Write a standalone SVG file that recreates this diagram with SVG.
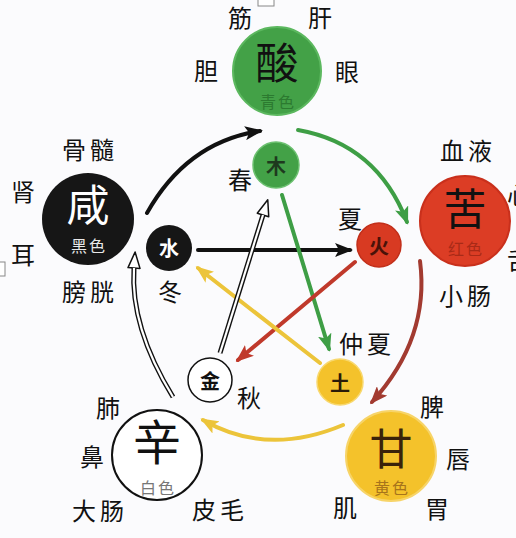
<svg xmlns="http://www.w3.org/2000/svg" width="516" height="538" viewBox="0 0 516 538">
<style>
text{font-family:"Noto Sans CJK SC","Noto Sans CJK TC",sans-serif;text-anchor:middle;dominant-baseline:central}
.lbl{font-size:24px;fill:#111;letter-spacing:4px}
.big{font-size:43px}
.sub{font-size:16px;letter-spacing:2px}
.sm{font-size:20px;font-weight:700}
.arr{fill:none;stroke-width:4;stroke-linecap:round}
</style>
<defs>
<marker id="hBlack" viewBox="0 0 18 14" refX="15" refY="7" markerWidth="18" markerHeight="14" markerUnits="userSpaceOnUse" orient="auto"><path d="M0,0 L18,7 L0,14 L4,7 z" fill="#111"/></marker>
<marker id="hGreen" viewBox="0 0 18 14" refX="15" refY="7" markerWidth="18" markerHeight="14" markerUnits="userSpaceOnUse" orient="auto"><path d="M0,0 L18,7 L0,14 L4,7 z" fill="#3e9e45"/></marker>
<marker id="hRed" viewBox="0 0 18 14" refX="15" refY="7" markerWidth="18" markerHeight="14" markerUnits="userSpaceOnUse" orient="auto"><path d="M0,0 L18,7 L0,14 L4,7 z" fill="#c0392b"/></marker>
<marker id="hBrown" viewBox="0 0 18 14" refX="15" refY="7" markerWidth="18" markerHeight="14" markerUnits="userSpaceOnUse" orient="auto"><path d="M0,0 L18,7 L0,14 L4,7 z" fill="#a23a30"/></marker>
<marker id="hYellow" viewBox="0 0 18 14" refX="15" refY="7" markerWidth="18" markerHeight="14" markerUnits="userSpaceOnUse" orient="auto"><path d="M0,0 L18,7 L0,14 L4,7 z" fill="#ecc43a"/></marker>
<marker id="hHollow" viewBox="-2 -2 20 16" refX="0" refY="6" markerWidth="20" markerHeight="16" markerUnits="userSpaceOnUse" orient="auto"><path d="M0,0 L16,6 L0,12 z" fill="#fff" stroke="#111" stroke-width="1.5" stroke-linejoin="round"/></marker>
</defs>
<rect width="516" height="538" fill="#fbfbfd"/>
<rect x="258" y="-2" width="16" height="8" fill="#fff" stroke="#888" stroke-width="1"/>
<rect x="-2" y="262" width="7" height="14" fill="#fff" stroke="#888" stroke-width="1"/>

<g id="connectors">
  <path class="arr" d="M147,213 Q187,142 260,131" stroke="#111" marker-end="url(#hBlack)"/>
  <path class="arr" d="M298,130 Q377,144 407,222" stroke="#3e9e45" marker-end="url(#hGreen)"/>
  <path class="arr" d="M420,261 Q430,338 372,402" stroke="#a23a30" marker-end="url(#hBrown)"/>
  <path class="arr" d="M343,425 Q267,457 203,420" stroke="#ecc43a" marker-end="url(#hYellow)"/>
  <path d="M173,397 Q130,327 134,268" fill="none" stroke="#111" stroke-width="5" marker-end="url(#hHollow)"/>
  <path d="M173,397 Q130,327 134,268" fill="none" stroke="#fff" stroke-width="2.2"/>
  <path class="arr" d="M198,250 L350,250" stroke="#111" marker-end="url(#hBlack)"/>
  <path class="arr" d="M282,195 L329,349" stroke="#3e9e45" marker-end="url(#hGreen)"/>
  <path class="arr" d="M355,262 L238,360" stroke="#c0392b" marker-end="url(#hRed)"/>
  <path class="arr" d="M320,363 L198,268" stroke="#ecc43a" marker-end="url(#hYellow)"/>
  <path d="M220,353 L263,215" fill="none" stroke="#111" stroke-width="5" marker-end="url(#hHollow)"/>
  <path d="M220,353 L263,215" fill="none" stroke="#fff" stroke-width="2.2"/>
</g>

<g id="suan">
  <circle cx="277" cy="71" r="44" fill="#43a147" stroke="#5cb85f" stroke-width="2"/>
  <text class="big" x="277" y="60" fill="#111">酸</text>
  <text class="sub" x="278" y="101" fill="#2c7a30">青色</text>
  <text class="lbl" x="242" y="16">筋</text>
  <text class="lbl" x="322" y="16">肝</text>
  <text class="lbl" x="208" y="69">胆</text>
  <text class="lbl" x="349" y="70">眼</text>
</g>

<g id="ku">
  <circle cx="465" cy="221" r="45" fill="#dc3d25" stroke="#c9301c" stroke-width="2"/>
  <text class="big" x="465" y="206" fill="#111">苦</text>
  <text class="sub" x="466" y="248" fill="#a92a17">红色</text>
  <text class="lbl" x="468" y="149">血液</text>
  <text class="lbl" x="467" y="294">小肠</text>
  <text class="lbl" x="521" y="193">心</text>
  <text class="lbl" x="521" y="258">舌</text>
</g>

<g id="xian">
  <circle cx="88" cy="219" r="46" fill="#161616"/>
  <text class="big" x="88" y="202" fill="#fff">咸</text>
  <text class="sub" x="89" y="245" fill="#e8e8e8">黑色</text>
  <text class="lbl" x="90" y="148">骨髓</text>
  <text class="lbl" x="25" y="190">肾</text>
  <text class="lbl" x="25" y="253">耳</text>
  <text class="lbl" x="90" y="290">膀胱</text>
</g>

<g id="gan">
  <circle cx="391" cy="456" r="45" fill="#f4c22b" stroke="#f7d468" stroke-width="2"/>
  <text class="big" x="391" y="446" fill="#3a220a">甘</text>
  <text class="sub" x="392" y="487" fill="#a7741b">黄色</text>
  <text class="lbl" x="434" y="405">脾</text>
  <text class="lbl" x="460" y="457">唇</text>
  <text class="lbl" x="347" y="506">肌</text>
  <text class="lbl" x="439" y="507">胃</text>
</g>

<g id="xin">
  <circle cx="157" cy="455" r="45" fill="#fff" stroke="#111" stroke-width="2"/>
  <text class="big" x="157" y="439" fill="#111" style="font-size:48px">辛</text>
  <text class="sub" x="158" y="487" fill="#777">白色</text>
  <text class="lbl" x="110" y="406">肺</text>
  <text class="lbl" x="94" y="455">鼻</text>
  <text class="lbl" x="100" y="509">大肠</text>
  <text class="lbl" x="220" y="508">皮毛</text>
</g>

<g id="mu">
  <circle cx="276" cy="165" r="23" fill="#43a147" stroke="#6cc070" stroke-width="1.5"/>
  <text class="sm" x="276" y="165" fill="#1e3a1e">木</text>
  <text class="lbl" x="242" y="178">春</text>
</g>

<g id="huo">
  <circle cx="379" cy="245" r="22" fill="#d83a22" stroke="#c22f1a" stroke-width="1.5"/>
  <text class="sm" x="379" y="245" fill="#4a1208">火</text>
  <text class="lbl" x="352" y="217">夏</text>
</g>

<g id="shui">
  <circle cx="169" cy="248" r="23" fill="#161616"/>
  <text class="sm" x="169" y="247" fill="#fff">水</text>
  <text class="lbl" x="172" y="290">冬</text>
</g>

<g id="jin">
  <circle cx="210" cy="380" r="22" fill="#fff" stroke="#111" stroke-width="1.5"/>
  <text class="sm" x="210" y="380" fill="#111">金</text>
  <text class="lbl" x="251" y="396">秋</text>
</g>

<g id="tu">
  <circle cx="340" cy="382" r="23" fill="#f4c22b" stroke="#f8d86e" stroke-width="1.5"/>
  <text class="sm" x="340" y="382" fill="#2a1a08">土</text>
  <text class="lbl" x="367" y="342">仲夏</text>
</g>
</svg>
